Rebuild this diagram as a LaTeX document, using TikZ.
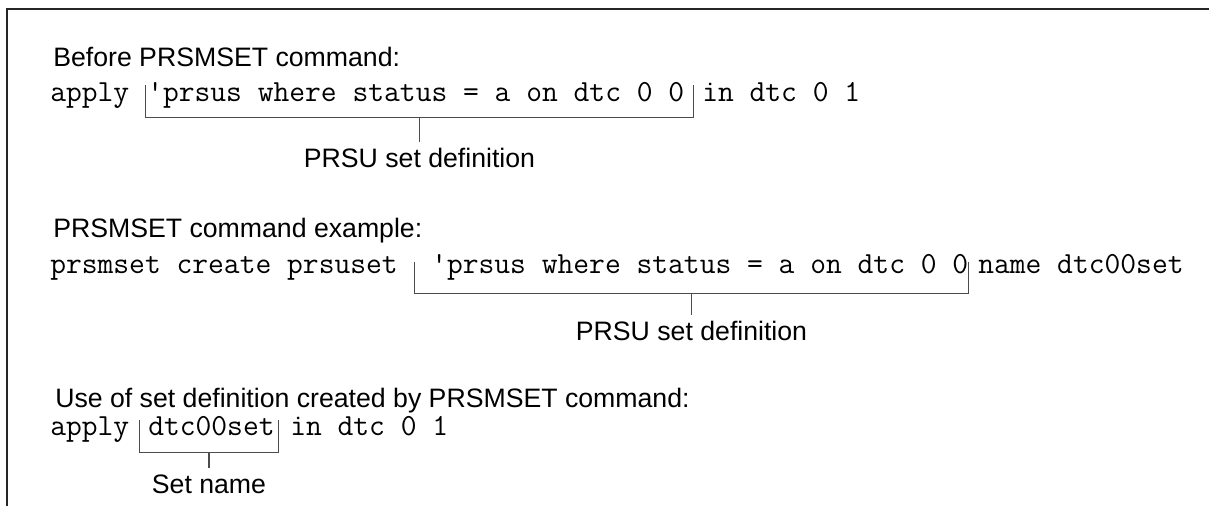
\documentclass[tikz,border=0pt]{standalone}
\usepackage{fontspec}
\setmainfont{Liberation Sans}
\usetikzlibrary{fit}
\tikzset{heading/.style={font=\fontsize{20}{24}\selectfont,inner sep=0pt,anchor=base west}}
\tikzset{code/.style={font=\ttfamily\fontsize{23}{26}\selectfont,inner sep=0pt,anchor=base west}}
\tikzset{setspan/.style={inner sep=0pt}}
\tikzset{deflabel/.style={font=\fontsize{20}{24}\selectfont,inner xsep=0pt,inner ysep=4pt,text height=14.3pt,text depth=0pt,anchor=base}}
\tikzset{brace/.style={draw=black!70,line width=0.8pt}}
\tikzset{frame/.style={draw=black!85,line width=1.1pt}}

\begin{document}
\begin{tikzpicture}[x=0.75pt,y=-0.75pt]
\useasboundingbox (0,0) rectangle (1209,506);
\draw[frame] (7,506) -- (7,9) -- (1209,9);

% before the command
\node[heading] (before) at (53,67) {Before PRSMSET command:};
\node[code] (apply1) at (50,102) {apply};
\node[code] (def1) at (147,102) {'prsus where status = a on dtc 0 0};
\node[code] (in1) at (702,102) {in dtc 0 1};
\node[setspan,fit={(146,85) (693,117)}] (set1) {};
\draw[brace] (set1.north west) |- (set1.south east) -- (set1.north east);
\node[deflabel] (lab1) at (419.5,167) {PRSU set definition};
\draw[brace] (set1.south) -- (lab1.north);

% command example
\node[heading] (example) at (53,237) {PRSMSET command example:};
\node[code] (create2) at (50,273) {prsmset create prsuset};
\node[code] (def2) at (431,273) {'prsus where status = a on dtc 0 0};
\node[code] (name2) at (978,273) {name dtc00set};
\node[setspan,fit={(415,262) (968,293)}] (set2) {};
\draw[brace] (set2.north west) |- (set2.south east) -- (set2.north east);
\node[deflabel] (lab2) at (691.5,340) {PRSU set definition};
\draw[brace] (set2.south) -- (lab2.north);

% use of the set
\node[heading] (use) at (55,407) {Use of set definition created by PRSMSET command:};
\node[code] (apply3) at (50,435) {apply};
\node[code] (def3) at (148,435) {dtc00set};
\node[code] (in3) at (290,435) {in dtc 0 1};
\node[setspan,fit={(140,420) (278,452)}] (set3) {};
\draw[brace] (set3.north west) |- (set3.south east) -- (set3.north east);
\node[deflabel] (lab3) at (209,493) {Set name};
\draw[brace] (set3.south) -- (lab3.north);
\end{tikzpicture}
\end{document}
